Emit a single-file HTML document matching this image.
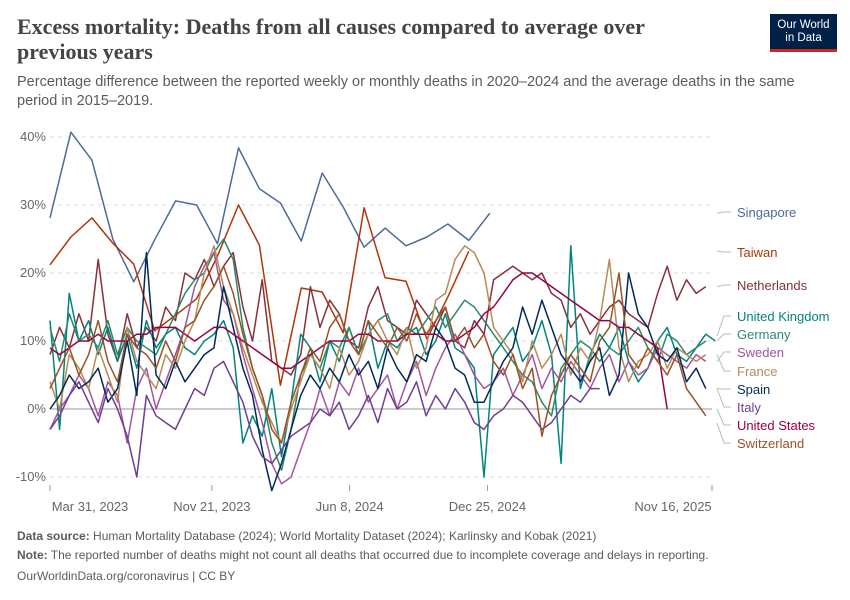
<!DOCTYPE html>
<html><head><meta charset="utf-8"><style>
body{margin:0;background:#fff;font-family:"Liberation Sans",sans-serif;}
#wrap{position:relative;width:850px;height:600px;overflow:hidden}
.t{position:absolute;white-space:nowrap}
</style></head><body>
<div id="wrap">
<div class="t" style="left:17px;top:14px;font-family:'Liberation Serif',serif;font-weight:bold;font-size:22px;line-height:25px;color:#444">Excess mortality: Deaths from all causes compared to average over<br>previous years</div>
<div class="t" style="left:17px;top:73px;font-size:14.5px;line-height:19px;color:#5b5b5b">Percentage difference between the reported weekly or monthly deaths in 2020–2024 and the average deaths in the same<br>period in 2015–2019.</div>
<div style="position:absolute;left:770px;top:14px;width:67px;height:38px;background:#002147;border-bottom:3px solid #ce261e;box-sizing:border-box;color:#fff;font-size:11.5px;line-height:13px;text-align:center;padding-top:5px">Our World<br>in Data</div>
<svg id="chart" width="850" height="600" style="position:absolute;left:0;top:0"></svg>
<div class="t" style="left:17px;top:529px;font-size:12px;color:#5b5b5b"><b>Data source:</b> Human Mortality Database (2024); World Mortality Dataset (2024); Karlinsky and Kobak (2021)</div>
<div class="t" style="left:17px;top:548px;font-size:12px;color:#5b5b5b"><b>Note:</b> The reported number of deaths might not count all deaths that occurred due to incomplete coverage and delays in reporting.</div>
<div class="t" style="left:17px;top:569px;font-size:12px;color:#5b5b5b">OurWorldinData.org/coronavirus | CC BY</div>
</div>
<script>
const yTicks=[40,30,20,10,0,-10];
const xTickLabels=["Mar 31, 2023","Nov 21, 2023","Jun 8, 2024","Dec 25, 2024","Nov 16, 2025"];
const xTickDates=["2023-03-31","2023-11-21","2024-06-08","2024-12-25","2025-11-16"];
const seriesNames=["Singapore","Taiwan","Netherlands","United Kingdom","Germany","Sweden","France","Spain","Italy","United States","Switzerland"];
const seriesColors=["#4c6a9c","#b13507","#883039","#00847e","#2a8a68","#a2559c","#b88a55","#00295b","#6d3e91","#970046","#9a5129"];
const seriesStep=[30.4,30.4,14,14,14,14,14,14,14,14,14];
const singapore=[28.1,40.7,36.6,25.0,18.7,24.9,30.6,30.0,24.3,38.4,32.4,30.3,24.7,34.7,29.7,23.8,26.6,24.0,25.3,27.2,24.8,28.8];
const taiwan=[21.2,25.3,28.1,24.4,21.3,11.5,13.8,16.2,22.5,30.0,24.1,3.5,17.8,17.2,11.2,29.6,19.3,18.8,10.3,16.5,23.2];
const netherlands=[8,12,9,14,10,22,11,7,14,9,12,10,15,13,20,19,22,18,21,23,15,10,19,7,6,5,8,18,12,16,14,10,9,15,18,13,12,11,16,14,12,15,10,9,13,11,19,20,21,20,19,20,17,16,12,14,11,13,15,16,14,13,12,17,21,16,19,17,18];
const unitedKingdom=[13,-3,17,10,13,8,12,7,11,6,13,9,11,12,9,8,10,11,13,9,-5,-1,-4,3,-7,1,11,9,4,10,7,12,8,13,6,10,9,11,12,8,10,14,9,8,6,-10,8,10,12,7,9,13,8,-8,24,3,8,11,9,12,7,4,6,10,12,8,7,9,11,10];
const germany=[12,7,14,10,11,9,13,8,12,10,9,8,11,14,17,19,20,23,25,22,12,6,2,-5,-9,-3,5,8,6,10,9,12,8,11,13,14,10,12,11,13,15,12,14,16,15,13,11,9,7,5,4,1,-1,6,8,10,9,7,9,8,10,12,9,7,11,10,8,9,10];
const sweden=[-3,0,2,5,3,-1,4,2,-5,3,6,0,4,8,12,18,21,23,16,14,8,3,-2,-8,-11,-10,-6,-2,3,-1,4,2,6,1,3,5,0,4,7,2,6,9,11,8,5,3,4,6,2,5,8,3,6,4,7,5,3,6,8,4,7,5,6,9,8,7,6,8,7];
const france=[4,0,8,6,3,9,5,1,12,7,5,3,8,6,10,13,20,24,18,14,9,5,1,-2,-5,0,4,8,6,3,9,5,7,11,13,10,8,12,6,9,16,17,22,24,23,20,12,10,8,4,10,6,8,11,5,9,7,13,22,9,4,7,8,10,6,9,8,7,8];
const spain=[0,2,5,3,4,6,1,3,10,2,23,5,3,7,4,6,8,9,18,12,6,2,-6,-12,-8,-3,2,5,3,6,4,8,5,7,3,9,6,4,8,7,12,10,6,5,1,1,4,7,9,15,11,16,12,8,6,4,7,9,2,5,20,14,12,8,7,9,4,6,3];
const italy=[-3,-1,2,4,1,-2,3,0,-4,-10,2,-1,-2,-3,0,3,2,6,7,4,1,-4,-7,-8,-6,-4,-3,-2,0,-1,1,-3,-1,2,-2,3,0,1,4,-1,2,0,3,1,-2,-3,-1,0,2,1,-1,-3,-2,0,2,1,3,3];
const unitedStates=[9,8,9,10,10,11,10,10,10,11,11,12,12,12,11,10,11,12,12,11,10,9,8,7,6,6,7,8,9,10,10,10,11,11,10,10,10,11,11,11,11,10,10,11,12,14,15,17,19,20,20,19,18,17,16,15,14,13,13,12,12,11,10,9,0];
const switzerland=[3,6,9,5,8,13,7,4,11,9,8,6,10,7,12,13,16,18,21,17,11,6,2,-3,-5,1,5,9,7,12,14,10,8,13,11,9,12,10,14,11,13,15,10,12,9,11,7,5,8,3,6,-4,2,5,8,6,4,10,12,20,8,6,9,7,5,8,3,1,-1];
const allSeries=[singapore,taiwan,netherlands,unitedKingdom,germany,sweden,france,spain,italy,unitedStates,switzerland];
const labelY=[212,252,285,316,334,352,371,389,407,425,443];

const NS="http://www.w3.org/2000/svg";
const svg=document.getElementById('chart');
const X0=50,X1=712,D0=new Date("2023-03-31").getTime(),D1=new Date("2025-11-16").getTime();
function xDays(d){return X0+(d*86400000)/(D1-D0)*(X1-X0);}
function xDate(s){return X0+(new Date(s).getTime()-D0)/(D1-D0)*(X1-X0);}
function y(v){return 409-v*6.8;}
function mk(tag,attrs){const e=document.createElementNS(NS,tag);for(const k in attrs)e.setAttribute(k,attrs[k]);svg.appendChild(e);return e;}
yTicks.forEach(t=>{
  const l=mk('line',{x1:X0,x2:X1,y1:y(t),y2:y(t),stroke:t===0?'#999':'#ddd','stroke-dasharray':t===0?'':'4,4','stroke-width':1});
  
  
  const tx=mk('text',{x:46,y:y(t)+4,'text-anchor':'end','font-size':13,fill:'#666','font-family':'Liberation Sans, sans-serif'});
  tx.textContent=t+'%';
  
  
});
xTickLabels.forEach((lab,i)=>{
  const x=xDate(xTickDates[i]);
  const l=mk('line',{x1:x,x2:x,y1:485,y2:491,stroke:'#999'});
  
  
  const tx=mk('text',{x:Math.min(Math.max(x,90),673),y:511,'text-anchor':'middle','font-size':13,fill:'#666','font-family':'Liberation Sans, sans-serif'});
  tx.textContent=lab;
  
  
});
allSeries.forEach((vals,si)=>{
  const pts=vals.map((v,i)=>xDays(i*seriesStep[si]).toFixed(1)+','+y(v).toFixed(1)).join(' ');
  const p=mk('polyline',{points:pts,fill:'none',stroke:seriesColors[si],'stroke-width':1.5,'stroke-linejoin':'round'});
  
  
  const endY=y(vals[vals.length-1]);
  const c=mk('polyline',{points:`717,${Math.min(Math.max(endY,labelY[si]-20),labelY[si]+20)} 724,${labelY[si]} 731,${labelY[si]}`,fill:'none',stroke:'#bbb','stroke-width':1});
  
  
  const tx=mk('text',{x:737,y:labelY[si]+5,'font-size':13,fill:seriesColors[si],'font-family':'Liberation Sans, sans-serif'});
  tx.textContent=seriesNames[si];
  
  
});
</script>
</body></html>
